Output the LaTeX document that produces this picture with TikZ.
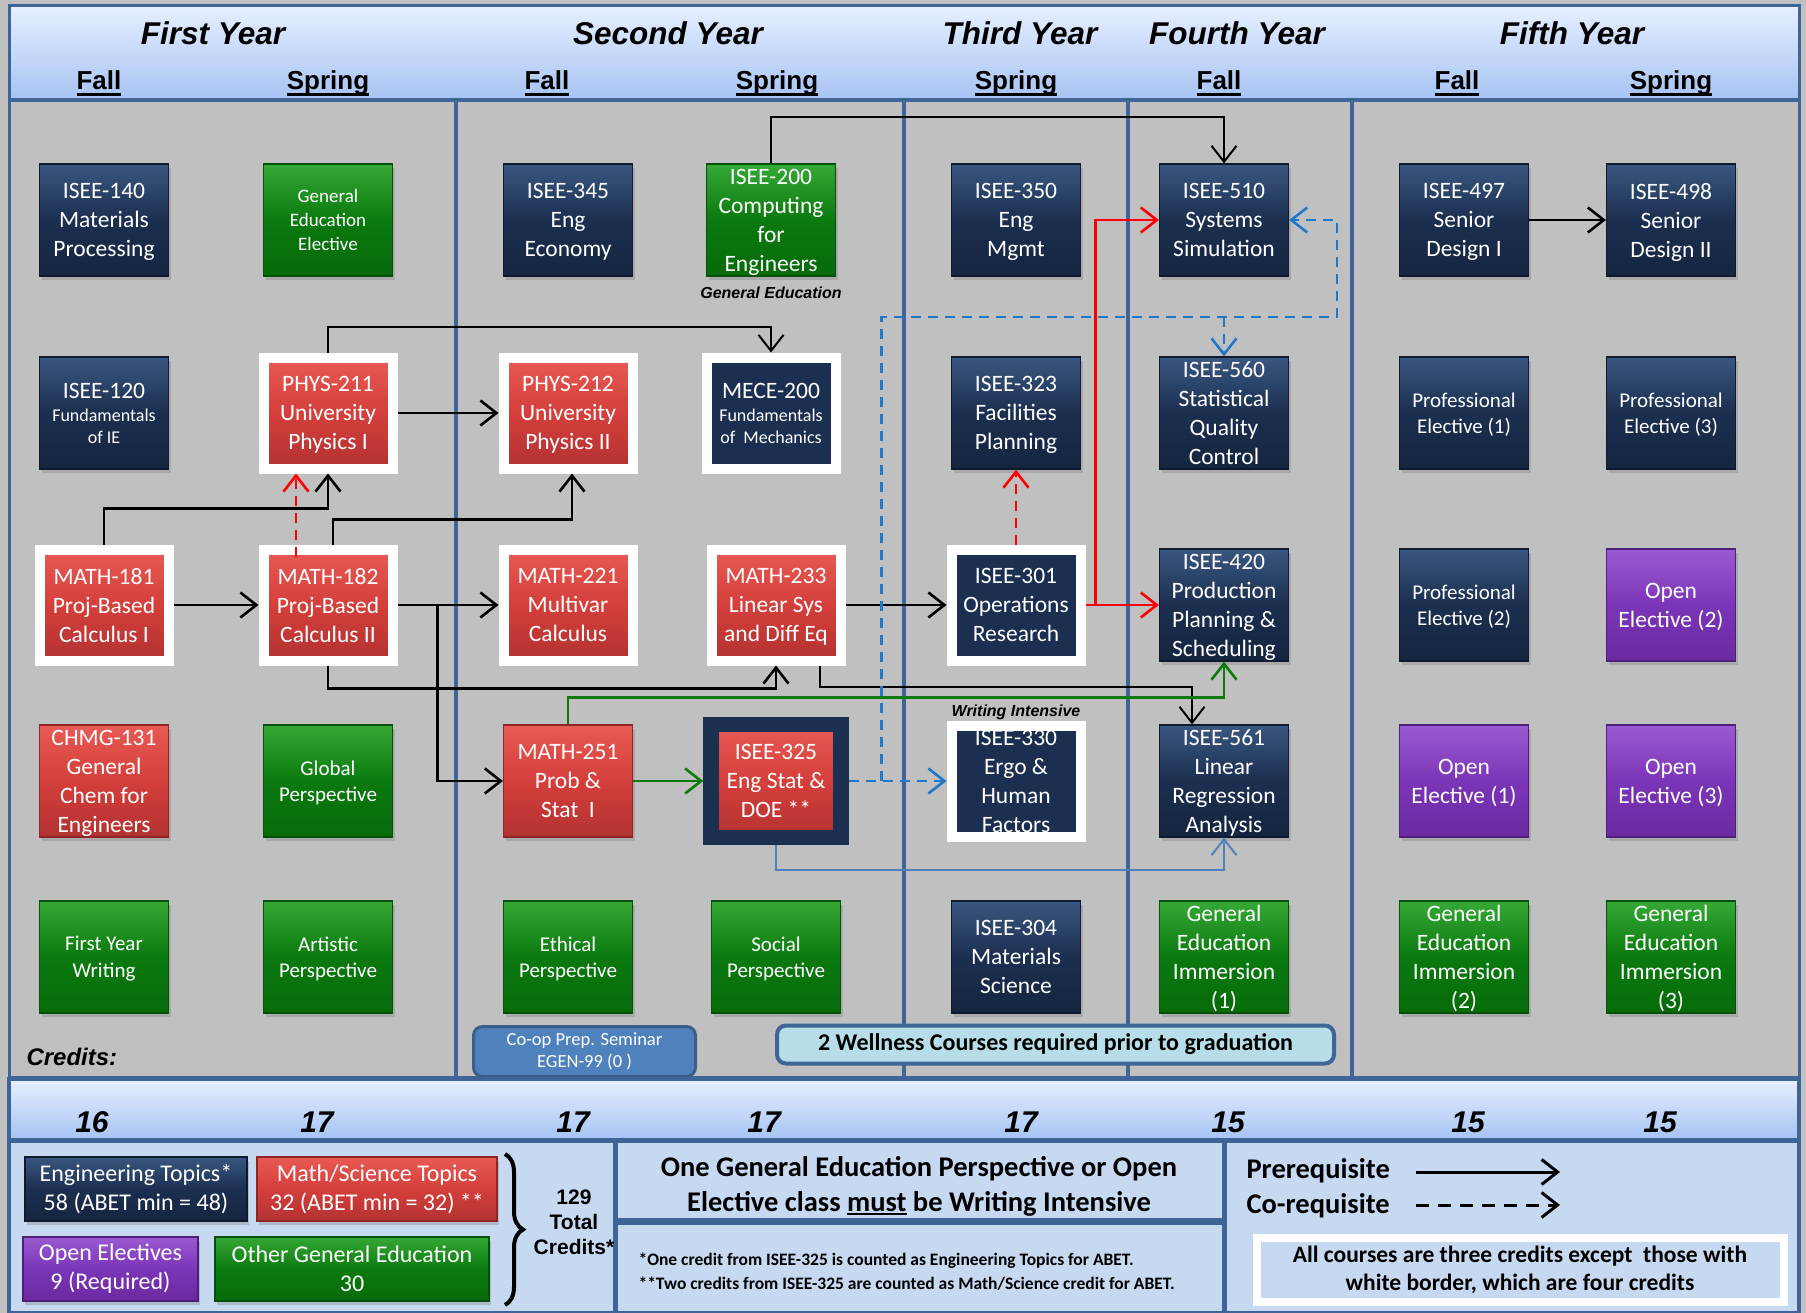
\documentclass[tikz,border=0pt]{standalone}
\usepackage{fontspec}
\setmainfont{Carlito}
\newfontfamily\arialf{Liberation Sans}
\usetikzlibrary{arrows.meta,calc,shadows,decorations.pathreplacing}

\definecolor{bggray}{HTML}{C0C0C0}
\definecolor{hdrT}{HTML}{E6EFFF}
\definecolor{hdrB}{HTML}{A6C3F3}
\definecolor{divc}{HTML}{3F6598}
\definecolor{botfill}{HTML}{C6D9F1}
\definecolor{navyT}{HTML}{3A5780}
\definecolor{navyM}{HTML}{1B2F50}
\definecolor{navyB}{HTML}{15253F}
\definecolor{navyD}{HTML}{0E1A2E}
\definecolor{greenT}{HTML}{35A835}
\definecolor{greenM}{HTML}{0B7A0F}
\definecolor{greenB}{HTML}{076A0A}
\definecolor{greenD}{HTML}{05500A}
\definecolor{redT}{HTML}{E85A55}
\definecolor{redM}{HTML}{D43F3B}
\definecolor{redB}{HTML}{B33232}
\definecolor{redD}{HTML}{8F2626}
\definecolor{purpT}{HTML}{9A5AD0}
\definecolor{purpM}{HTML}{7B35B8}
\definecolor{purpB}{HTML}{6A2A9F}
\definecolor{purpD}{HTML}{4E1F78}
\definecolor{arrgreen}{HTML}{0E7A0E}
\definecolor{arrblue}{HTML}{1F78C8}
\definecolor{steel}{HTML}{4F81BD}
\definecolor{steelD}{HTML}{3A5F8B}
\definecolor{wellc}{HTML}{B7DEE8}

\newcommand\ftA{\fontsize{23.5}{29}\selectfont}
\newcommand\ftB{\fontsize{21}{26.5}\selectfont}
\newcommand\ftC{\fontsize{19}{24}\selectfont}
\newcommand\ftS{\fontsize{18}{22}\selectfont}
\newcommand\fhdr{\arialf\bfseries\itshape\fontsize{31.5}{36}\selectfont}
\newcommand\fnum{\arialf\bfseries\itshape\fontsize{30}{36}\selectfont}
\newcommand\fsem{\arialf\bfseries\fontsize{26}{30}\selectfont}
\newcommand\ulin[3]{\setbox0=\hbox{#3}\rlap{\raisebox{-#1}{\rule{\wd0}{#2}}}\box0\relax}

\tikzset{
  base/.style={inner sep=0pt, align=center, text=white, font=\ftA, text depth=-3pt,
    drop shadow={opacity=.35,shadow xshift=2pt,shadow yshift=-4pt}},
  std/.style={base, minimum width=129pt, minimum height=112pt, line width=1.2pt},
  navyb/.style={std, top color=navyT, bottom color=navyB, middle color=navyM, draw=navyD},
  greenb/.style={std, top color=greenT, bottom color=greenB, middle color=greenM, draw=greenD},
  redb/.style={std, top color=redT, bottom color=redB, middle color=redM, draw=redD},
  purpb/.style={std, top color=purpT, bottom color=purpB, middle color=purpM, draw=purpD},
  wb/.style={base, minimum width=129pt, minimum height=111pt, line width=10pt, draw=white},
  wred/.style={wb, top color=redT, bottom color=redB, middle color=redM},
  wnavy/.style={wb, fill=navyM},
  tip/.style={-{Straight Barb[length=16pt,width=25pt]}},
  pre/.style={line width=2.6pt, tip},
  pre2/.style={line width=2pt, tip},
  redpre/.style={red, line width=2.6pt, tip},
  reddash/.style={red, line width=2.6pt, dash pattern=on 10pt off 7pt, tip},
  greenpre/.style={arrgreen, line width=2.6pt, tip},
  bluedash/.style={arrblue, line width=2.6pt, dash pattern=on 10pt off 7pt, tip},
  bluepre/.style={steel, line width=2pt, tip},
  catb/.style={inner sep=0pt, align=center, text=white, font=\fontsize{24}{29}\selectfont, minimum height=64pt, line width=1.2pt,
    drop shadow={opacity=.35,shadow xshift=2pt,shadow yshift=-4pt}},
}

\begin{document}
\begin{tikzpicture}[x=1pt,y=-1pt]
\useasboundingbox (0,0) rectangle (1806,1313);
\fill[bggray] (0,0) rectangle (1806,1313);

% header
\shadedraw[top color=hdrT, bottom color=hdrB, draw=divc, line width=3pt] (9,6) rectangle (1799,100);
\node[anchor=base, font=\fhdr] (y1) at (213,45) {First Year};
\node[anchor=base, font=\fhdr] (y2) at (668,45) {Second Year};
\node[anchor=base, font=\fhdr] (y3) at (1020,45) {Third Year};
\node[anchor=base, font=\fhdr] (y4) at (1237,45) {Fourth Year};
\node[anchor=base, font=\fhdr] (y5) at (1572,45) {Fifth Year};
\node[anchor=base, font=\fsem] (s1) at (99,90) {\ulin{6pt}{3pt}{Fall}};
\node[anchor=base, font=\fsem] (s2) at (328,90) {\ulin{6pt}{3pt}{Spring}};
\node[anchor=base, font=\fsem] (s3) at (547,90) {\ulin{6pt}{3pt}{Fall}};
\node[anchor=base, font=\fsem] (s4) at (777,90) {\ulin{6pt}{3pt}{Spring}};
\node[anchor=base, font=\fsem] (s5) at (1016,90) {\ulin{6pt}{3pt}{Spring}};
\node[anchor=base, font=\fsem] (s6) at (1219,90) {\ulin{6pt}{3pt}{Fall}};
\node[anchor=base, font=\fsem] (s7) at (1457,90) {\ulin{6pt}{3pt}{Fall}};
\node[anchor=base, font=\fsem] (s8) at (1671,90) {\ulin{6pt}{3pt}{Spring}};

% gray area frame and dividers
\draw[divc, line width=3pt] (9,101) rectangle (1799,1077);
\foreach \xx in {456,904,1128,1352} \draw[divc, line width=4pt] (\xx,101) -- (\xx,1077);

% Row 1
\node[navyb] (isee140) at (104,220) {ISEE-140\\Materials\\Processing};
\node[greenb, font=\ftC] (gee) at (328,220) {General\\Education\\Elective};
\node[navyb] (isee345) at (568,220) {ISEE-345\\Eng\\Economy};
\node[greenb] (isee200) at (771,220) {ISEE-200\\Computing\\for\\Engineers};
\node[navyb] (isee350) at (1016,220) {ISEE-350\\Eng\\Mgmt};
\node[navyb] (isee510) at (1224,220) {ISEE-510\\Systems\\Simulation};
\node[navyb] (isee497) at (1464,220) {ISEE-497\\Senior\\Design I};
\node[navyb] (isee498) at (1671,220) {ISEE-498\\Senior\\Design II};
\node[font=\arialf\bfseries\itshape\fontsize{16}{19}\selectfont] (gedlab) at (771,293) {General Education};

% Row 2
\node[navyb] (isee120) at (104,413) {ISEE-120\\[-6pt]\ftS Fundamentals\\[-7pt]\ftS of IE};
\node[wred] (phys211) at (328,413) {PHYS-211\\University\\Physics I};
\node[wred] (phys212) at (568,413) {PHYS-212\\University\\Physics II};
\node[wnavy] (mece200) at (771,413) {MECE-200\\[-6pt]\ftS Fundamentals\\[-7pt]\ftS of~~Mechanics};
\node[navyb] (isee323) at (1016,413) {ISEE-323\\Facilities\\Planning};
\node[navyb] (isee560) at (1224,413) {ISEE-560\\Statistical\\Quality\\Control};
\node[navyb, font=\ftB] (pe1) at (1464,413) {Professional\\Elective (1)};
\node[navyb, font=\ftB] (pe3) at (1671,413) {Professional\\Elective (3)};

% Row 3
\node[wred] (math181) at (104,605) {MATH-181\\Proj-Based\\Calculus I};
\node[wred] (math182) at (328,605) {MATH-182\\Proj-Based\\Calculus II};
\node[wred] (math221) at (568,605) {MATH-221\\Multivar\\Calculus};
\node[wred] (math233) at (776,605) {MATH-233\\Linear Sys\\and Diff Eq};
\node[wnavy] (isee301) at (1016,605) {ISEE-301\\Operations\\Research};
\node[navyb] (isee420) at (1224,605) {ISEE-420\\Production\\Planning \&\\Scheduling};
\node[navyb, font=\ftB] (pe2) at (1464,605) {Professional\\Elective (2)};
\node[purpb] (oe2) at (1671,605) {Open\\Elective (2)};

% Row 4
\node[redb] (chmg131) at (104,781) {CHMG-131\\General\\Chem for\\Engineers};
\node[greenb, font=\ftB] (glob) at (328,781) {Global\\Perspective};
\node[redb] (math251) at (568,781) {MATH-251\\Prob \&\\Stat~~I};
\node[base, minimum width=130pt, minimum height=113pt, line width=15.5pt, draw=navyM, top color=redT, bottom color=redB, middle color=redM] (isee325) at (776,781) {ISEE-325\\Eng Stat \&\\DOE **};
\node[wnavy] (isee330) at (1016,781) {ISEE-330\\Ergo \&\\Human\\Factors};
\node[navyb] (isee561) at (1224,781) {ISEE-561\\Linear\\Regression\\Analysis};
\node[purpb] (oe1) at (1464,781) {Open\\Elective (1)};
\node[purpb] (oe3) at (1671,781) {Open\\Elective (3)};
\node[font=\arialf\bfseries\itshape\fontsize{16}{19}\selectfont] (wilab) at (1016,712) {Writing Intensive};

% Row 5
\node[greenb, font=\ftB] (fyw) at (104,957) {First Year\\Writing};
\node[greenb, font=\ftB] (art) at (328,957) {Artistic\\Perspective};
\node[greenb, font=\ftB] (eth) at (568,957) {Ethical\\Perspective};
\node[greenb, font=\ftB] (soc) at (776,957) {Social\\Perspective};
\node[navyb] (isee304) at (1016,957) {ISEE-304\\Materials\\Science};
\node[greenb] (gei1) at (1224,957) {General\\Education\\Immersion\\(1)};
\node[greenb] (gei2) at (1464,957) {General\\Education\\Immersion\\(2)};
\node[greenb] (gei3) at (1671,957) {General\\Education\\Immersion\\(3)};

% bottom of gray area
\node[anchor=base west, font=\arialf\bfseries\itshape\fontsize{24}{28}\selectfont] (credlab) at (23,1065) {Credits:};
\node[inner sep=0pt, minimum width=222pt, minimum height=50pt, rounded corners=9pt, fill=steel, draw=steelD, line width=3pt, align=center, text=white, font=\fontsize{18.5}{22}\selectfont] (coop) at (584.5,1051.5) {Co-op Prep. Seminar\\EGEN-99 (0 )};
\node[inner sep=0pt, minimum width=557pt, minimum height=38pt, rounded corners=9pt, fill=wellc, draw=divc, line width=4pt, font=\bfseries\fontsize{24}{28}\selectfont] (well) at (1055.5,1044.5) {2 Wellness Courses required prior to graduation};

% connectors
\draw[pre2] (isee200.north) -- ++(0,-46) -| (isee510.north);
\draw[pre2] (phys211.north) -- ++(0,-25) -| (mece200.north);
\draw[pre] (phys211.east) -- (phys212.west);
\draw[pre] (math181.north) |- ($(phys211.south)+(0,35)$) -- (phys211.south);
\draw[pre] ($(math182.north)+(5,0)$) |- ($(phys212.south)+(4,46)$) -- ($(phys212.south)+(4,0)$);
\draw[reddash] ($(math182.north)+(-32,12)$) -- ($(phys211.south)+(-32,0)$);
\draw[pre] (math181.east) -- (math182.west);
\draw[pre] (math182.east) -- (math221.west);
\draw[pre] ($(math182.east)+(40,0)$) |- (math251.west);
\draw[pre] (math182.south) -- ++(0,23) -| (math233.south);
\draw[pre2] ($(math233.south)+(44,0)$) -- ++(0,21) -| ($(isee561.north)+(-32,0)$);
\draw[pre] (math233.east) -- (isee301.west);
\draw[redpre] (isee301.east) -- (isee420.west);
\draw[redpre] ($(isee301.east)+(10,0)$) |- (isee510.west);
\draw[reddash] (isee301.north) -- (isee323.south);
\draw[greenpre] (math251.north) |- ($(isee420.south)+(0,36)$) -- (isee420.south);
\draw[greenpre] (math251.east) -- (isee325.west);
\draw[bluedash] (isee325.east) -- (isee330.west);
\coordinate (bj) at ($(isee325.east)+(33,0)$);
\coordinate (bk) at ($(isee510.east)+(48,97)$);
\draw[bluedash] (bj) |- (bk) |- (isee510.east);
\draw[bluedash] (bk -| isee560.north) -- (isee560.north);
\draw[bluepre] (isee325.south) -- ++(0,25) -| (isee561.south);
\draw[pre] (isee497.east) -- (isee498.west);

% credits band
\shadedraw[top color=hdrT, bottom color=hdrB, draw=divc, line width=4pt] (9,1079) rectangle (1799,1140);
\node[anchor=base, font=\fnum] (c1) at (92,1132) {16};
\node[anchor=base, font=\fnum] (c2) at (317,1132) {17};
\node[anchor=base, font=\fnum] (c3) at (573,1132) {17};
\node[anchor=base, font=\fnum] (c4) at (764,1132) {17};
\node[anchor=base, font=\fnum] (c5) at (1021,1132) {17};
\node[anchor=base, font=\fnum] (c6) at (1228,1132) {15};
\node[anchor=base, font=\fnum] (c7) at (1468,1132) {15};
\node[anchor=base, font=\fnum] (c8) at (1660,1132) {15};

% bottom panel
\filldraw[fill=botfill, draw=divc, line width=4pt] (9,1141) rectangle (1799,1313);
\draw[divc, line width=5pt] (615,1141) -- (615,1313);
\draw[divc, line width=5pt] (1224,1141) -- (1224,1313);
\draw[divc, line width=7pt] (615,1221) -- (1224,1221);

\node[catb, minimum width=222pt, top color=navyT, bottom color=navyB, middle color=navyM, draw=navyD] (cateng) at (136,1189) {Engineering Topics*\\58 (ABET min = 48)};
\node[catb, minimum width=240pt, top color=redT, bottom color=redB, middle color=redM, draw=redD] (catmath) at (377,1189) {Math/Science Topics\\32 (ABET min = 32) **};
\node[catb, minimum width=175pt, top color=purpT, bottom color=purpB, middle color=purpM, draw=purpD] (catopen) at (110.5,1269) {Open Electives\\9 (Required)};
\node[catb, minimum width=274pt, top color=greenT, bottom color=greenB, middle color=greenM, draw=greenD] (catgen) at (352,1269) {Other General Education\\30};
\draw[line width=4pt, decorate, decoration={brace, amplitude=18pt}] (505,1154) -- (505,1305);
\node[align=center, font=\arialf\bfseries\fontsize{21}{25}\selectfont] (tot) at (574,1222) {129\\Total\\Credits*};

\node[align=center, font=\bfseries\fontsize{28.5}{35}\selectfont] (wint) at (919,1186) {One General Education Perspective or Open\\Elective class \ulin{4pt}{2pt}{must} be Writing Intensive};
\node[anchor=base west, font=\bfseries\fontsize{17.5}{21}\selectfont] (fn1) at (635,1265) {*One credit from ISEE-325 is counted as Engineering Topics for ABET.};
\node[anchor=base west, font=\bfseries\fontsize{17.5}{21}\selectfont] (fn2) at (635,1289) {**Two credits from ISEE-325 are counted as Math/Science credit for ABET.};

\node[anchor=base west, font=\bfseries\fontsize{28.5}{32}\selectfont] (lgpre) at (1243,1178) {Prerequisite};
\node[anchor=base west, font=\bfseries\fontsize{28.5}{32}\selectfont] (lgco) at (1243,1213) {Co-requisite};
\coordinate (lp1) at (1416,1172);
\coordinate (lp2) at (1560,1172);
\coordinate (lc1) at (1416,1205);
\coordinate (lc2) at (1560,1205);
\draw[pre, line width=3pt] (lp1) -- (lp2);
\draw[pre, line width=3pt, dash pattern=on 13pt off 9pt] (lc1) -- (lc2);
\node[inner sep=0pt, minimum width=527pt, minimum height=64pt, draw=white, line width=8pt, fill=botfill, align=center, font=\bfseries\fontsize{23.5}{28}\selectfont] (allc) at (1520,1270) {All courses are three credits except~ those with\\white border, which are four credits};
\end{tikzpicture}
\end{document}
